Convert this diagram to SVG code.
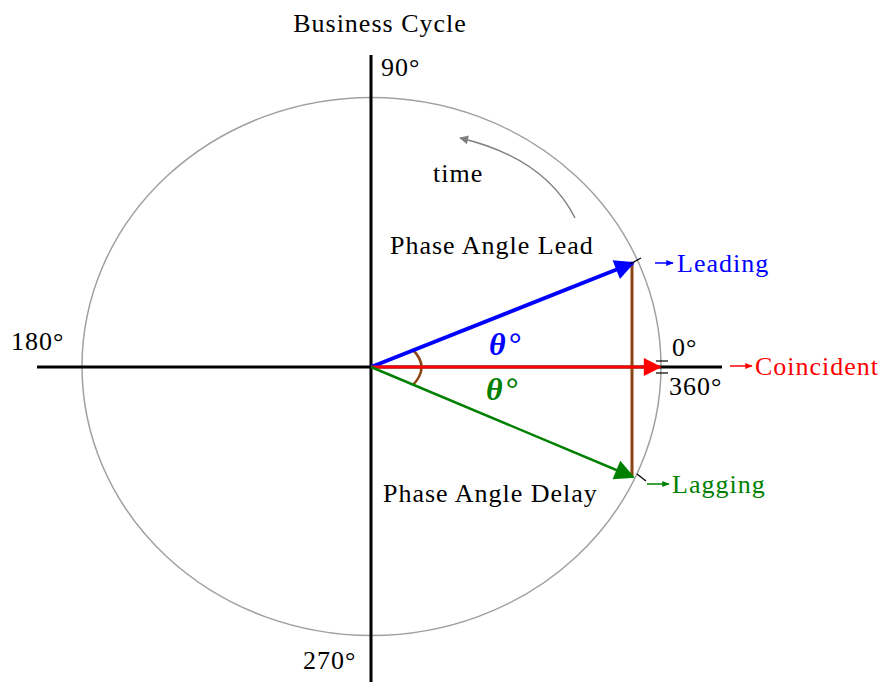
<svg xmlns="http://www.w3.org/2000/svg" width="883" height="682" viewBox="0 0 883 682">
<style>
text{font-family:"Liberation Serif","Times New Roman",serif;font-size:26px;letter-spacing:1px;fill:#000}
.b{fill:#0000ff}.r{fill:#ff0000}.g{fill:#008000}
.th{font-style:italic;font-weight:bold;font-size:32px;letter-spacing:2px}
</style>
<defs>
<marker id="mb" viewBox="0 0 10 10" refX="9" refY="5" markerWidth="6" markerHeight="5" orient="auto" markerUnits="strokeWidth"><path d="M0,0 L10,5 L0,10 z" fill="#0000ff"/></marker>
<marker id="mr" viewBox="0 0 10 10" refX="9" refY="5" markerWidth="7" markerHeight="6" orient="auto" markerUnits="strokeWidth"><path d="M0,0 L10,5 L0,10 z" fill="#ff0000"/></marker>
<marker id="mg" viewBox="0 0 10 10" refX="9" refY="5" markerWidth="9" markerHeight="8" orient="auto" markerUnits="strokeWidth"><path d="M0,0 L10,5 L0,10 z" fill="#008000"/></marker>
<marker id="mgr" viewBox="0 0 10 10" refX="9" refY="5" markerWidth="7" markerHeight="6" orient="auto" markerUnits="strokeWidth"><path d="M0,0 L10,5 L0,10 z" fill="#808080"/></marker>
<marker id="sb" viewBox="0 0 10 10" refX="9" refY="5" markerWidth="5" markerHeight="5" orient="auto" markerUnits="strokeWidth"><path d="M0,1 L10,5 L0,9 z" fill="#0000ff"/></marker>
<marker id="sr" viewBox="0 0 10 10" refX="9" refY="5" markerWidth="5" markerHeight="5" orient="auto" markerUnits="strokeWidth"><path d="M0,1 L10,5 L0,9 z" fill="#ff0000"/></marker>
<marker id="sg" viewBox="0 0 10 10" refX="9" refY="5" markerWidth="5" markerHeight="5" orient="auto" markerUnits="strokeWidth"><path d="M0,1 L10,5 L0,9 z" fill="#008000"/></marker>
</defs>
<g id="circle"><ellipse cx="371.5" cy="366.5" rx="289.5" ry="269" fill="none" stroke="#a0a0a0" stroke-width="1.5"/></g>
<g id="axes" stroke="#000" stroke-width="3">
<line x1="37" y1="367" x2="722" y2="367"/>
<line x1="371" y1="55" x2="371" y2="682"/>
</g>
<g id="connectors">
<path d="M575,218 Q545,158 460,138" fill="none" stroke="#808080" stroke-width="1.5" marker-end="url(#mgr)"/>
<line x1="632" y1="263" x2="632" y2="476" stroke="#8b4513" stroke-width="3"/>
<path d="M413,350 Q430,367 413,385" fill="none" stroke="#8b4513" stroke-width="2.5"/>
<line x1="371" y1="367" x2="633" y2="263" stroke="#0000ff" stroke-width="4" marker-end="url(#mb)"/>
<line x1="371" y1="367" x2="660" y2="367" stroke="#ff0000" stroke-width="3" marker-end="url(#mr)"/>
<line x1="371" y1="367" x2="633" y2="477" stroke="#008000" stroke-width="2.5" marker-end="url(#mg)"/>
<g stroke="#000" stroke-width="1.2">
<line x1="630" y1="264" x2="641" y2="258"/>
<line x1="637" y1="474" x2="646" y2="481"/>
<line x1="656" y1="361" x2="668" y2="361"/>
<line x1="656" y1="373" x2="668" y2="373"/>
</g>
<line x1="655" y1="263" x2="673" y2="263" stroke="#0000ff" stroke-width="1.5" marker-end="url(#sb)"/>
<line x1="730" y1="366" x2="752" y2="366" stroke="#ff0000" stroke-width="1.5" marker-end="url(#sr)"/>
<line x1="647" y1="484" x2="669" y2="484" stroke="#008000" stroke-width="1.5" marker-end="url(#sg)"/>
</g>
<g id="labels">
<text x="380" y="32" text-anchor="middle">Business Cycle</text>
<text x="381" y="76">90°</text>
<text x="11" y="350">180°</text>
<text x="303" y="669">270°</text>
<text x="672" y="356">0°</text>
<text x="669" y="395">360°</text>
<text x="433" y="182">time</text>
<text x="390" y="254">Phase Angle Lead</text>
<text x="383" y="502">Phase Angle Delay</text>
<text class="th b" x="489" y="355">θ°</text>
<text class="th g" x="486" y="400">θ°</text>
<text class="b" x="677" y="272">Leading</text>
<text class="r" x="755" y="375">Coincident</text>
<text class="g" x="672" y="493">Lagging</text>
</g>
</svg>
